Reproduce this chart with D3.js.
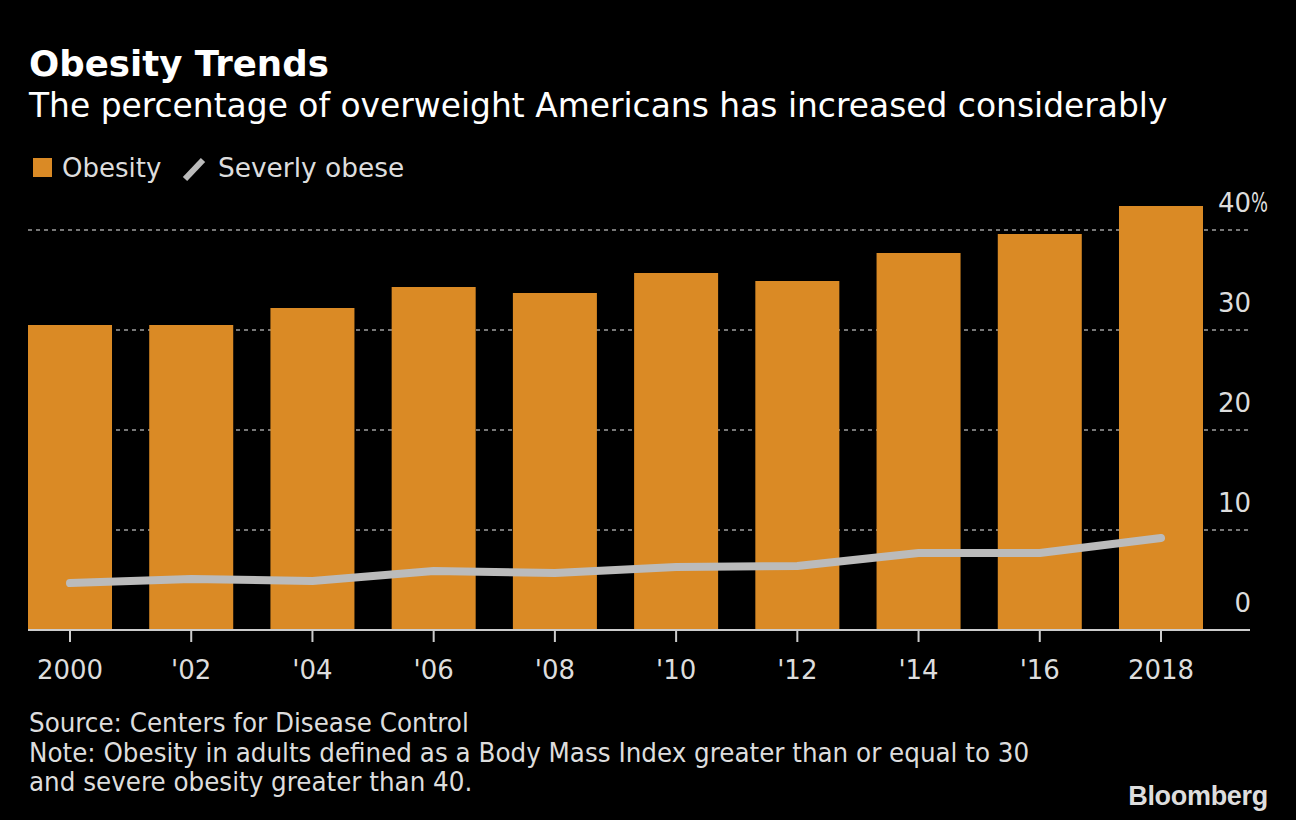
<!DOCTYPE html>
<html><head><meta charset="utf-8">
<script src="https://cdn.jsdelivr.net/npm/d3@7"></script>
<style>
html,body{margin:0;padding:0;background:#000;}
svg{display:block;}
</style></head>
<body>
<svg id="chart" width="1296" height="820"></svg>
<script>
const years = ["2000","'02","'04","'06","'08","'10","'12","'14","'16","2018"];
const obesity = [30.5, 30.5, 32.2, 34.3, 33.7, 35.7, 34.9, 37.7, 39.6, 42.4];
const severe = [4.7, 5.1, 4.9, 5.9, 5.7, 6.3, 6.4, 7.7, 7.7, 9.2];
const yTicks = [0, 10, 20, 30, 40];

const svg = d3.select("#chart");
svg.append("rect").attr("width",1296).attr("height",820).attr("fill","#000");

const x = d3.scaleBand().domain(years).range([28, 1203]).paddingInner(0.307).paddingOuter(0);
const y = d3.scaleLinear().domain([0, 40]).range([630, 230]);

const font = "'DejaVu Sans', Verdana, sans-serif";
const cond = "'DejaVu Sans Condensed', 'DejaVu Sans', sans-serif";

// title
svg.append("text").attr("x",29).attr("y",76).attr("fill","#fff")
  .attr("font-family",font).attr("font-weight","bold").attr("font-size",35.6).text("Obesity Trends");
svg.append("text").attr("x",29).attr("y",117).attr("fill","#fff")
  .attr("font-family",font).attr("font-size",32.9).text("The percentage of overweight Americans has increased considerably");

// legend
svg.append("rect").attr("x",33).attr("y",158).attr("width",19).attr("height",19).attr("fill","#DA8A25");
svg.append("text").attr("x",62).attr("y",177).attr("fill","#ddd").attr("font-family",font).attr("font-size",26).text("Obesity");
svg.append("line").attr("x1",185).attr("y1",179).attr("x2",203).attr("y2",160)
  .attr("stroke","#bbb").attr("stroke-width",6);
svg.append("text").attr("x",218).attr("y",177).attr("fill","#ddd").attr("font-family",font).attr("font-size",26.4).text("Severly obese");

// gridlines
svg.append("g").selectAll("line").data(yTicks.filter(d=>d>0)).join("line")
  .attr("x1",28).attr("x2",1250).attr("y1",d=>y(d)).attr("y2",d=>y(d))
  .attr("stroke","#777").attr("stroke-width",2).attr("stroke-dasharray","4,4");

// y labels
const yl = svg.append("g");
yl.selectAll("text").data(yTicks).join("text")
  .attr("x",1251).attr("y",d=>y(d)-18).attr("text-anchor","end")
  .attr("fill","#ddd").attr("font-family",font).attr("font-size",26)
  .text(d=>d);
yl.append("text").attr("x",1251).attr("y",y(40)-18).attr("fill","#ddd")
  .attr("font-family",font).attr("font-size",26)
  .attr("textLength",17).attr("lengthAdjust","spacingAndGlyphs").text("%");

// bars
svg.append("g").selectAll("rect").data(years).join("rect")
  .attr("x",d=>x(d)).attr("width",x.bandwidth())
  .attr("y",(d,i)=>y(obesity[i])).attr("height",(d,i)=>y(0)-y(obesity[i]))
  .attr("fill","#DA8A25");

// line
const line = d3.line().x((d,i)=>x(years[i])+x.bandwidth()/2).y(d=>y(d));
svg.append("path").datum(severe).attr("d",line).attr("fill","none")
  .attr("stroke","#bbb").attr("stroke-width",8).attr("stroke-linecap","round").attr("stroke-linejoin","round");

// x axis
svg.append("line").attr("x1",28).attr("x2",1250).attr("y1",630).attr("y2",630)
  .attr("stroke","#ccc").attr("stroke-width",2);
const xa = svg.append("g");
xa.selectAll("line").data(years).join("line")
  .attr("x1",d=>x(d)+x.bandwidth()/2).attr("x2",d=>x(d)+x.bandwidth()/2)
  .attr("y1",631).attr("y2",642).attr("stroke","#ccc").attr("stroke-width",2);
xa.selectAll("text").data(years).join("text")
  .attr("x",d=>x(d)+x.bandwidth()/2).attr("y",679).attr("text-anchor","middle")
  .attr("fill","#ddd").attr("font-family",font).attr("font-size",26).text(d=>d);

// footnote
const notes = ["Source: Centers for Disease Control",
  "Note: Obesity in adults defined as a Body Mass Index greater than or equal to 30",
  "and severe obesity greater than 40."];
svg.append("g").selectAll("text").data(notes).join("text")
  .attr("x",29).attr("y",(d,i)=>732+i*29.7).attr("fill","#ddd")
  .attr("font-family",cond).attr("font-size",27.4).text(d=>d);

svg.append("text").attr("x",1268).attr("y",805).attr("text-anchor","end")
  .attr("fill","#ddd").attr("font-family","'Liberation Sans', Arial, sans-serif")
  .attr("font-weight","bold").attr("font-size",27).attr("letter-spacing",-0.3).text("Bloomberg");
</script>
</body></html>
